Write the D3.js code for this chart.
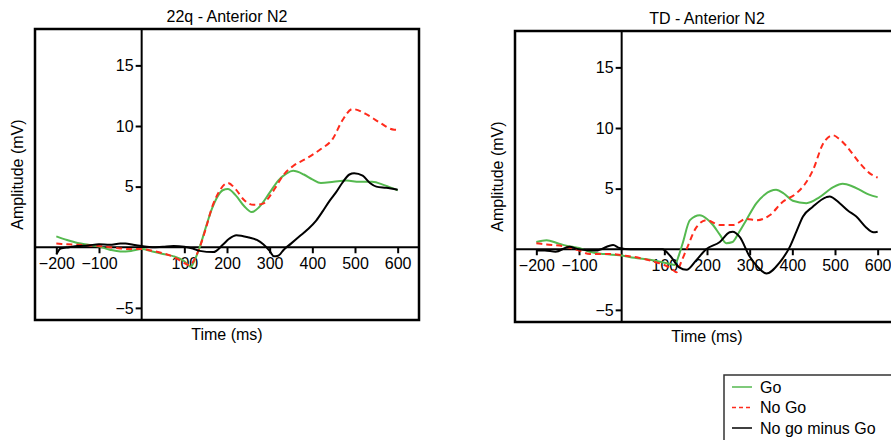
<!DOCTYPE html>
<html>
<head>
<meta charset="utf-8">
<script src="https://cdn.jsdelivr.net/npm/d3@7"></script>
<style>
  body { margin: 0; background: #fff; }
  svg { display: block; font-family: "Liberation Sans", Arial, Helvetica, sans-serif; }
</style>
</head>
<body>
<svg id="chart" width="891" height="440"></svg>
<script>
// data: [time (ms), amplitude (mV)]
const go22q = [[-200,0.9],[-175,0.6],[-150,0.35],[-125,0.2],[-100,0.05],[-75,-0.2],[-50,-0.35],[-25,-0.3],[0,-0.15],[25,-0.35],[50,-0.55],[75,-0.75],[100,-1.15],[115,-1.6],[125,-1.0],[136,0],[150,1.6],[165,3.2],[175,4.0],[190,4.7],[202,4.8],[220,4.3],[240,3.4],[258,2.9],[275,3.3],[300,4.5],[320,5.5],[340,6.1],[355,6.3],[380,6.0],[400,5.6],[420,5.3],[450,5.4],[480,5.5],[510,5.4],[540,5.4],[570,5.1],[600,4.7]];
const nogo22q = [[-200,0.3],[-175,0.25],[-150,0.2],[-125,0.15],[-100,0.1],[-75,0.0],[-50,-0.1],[-25,-0.15],[0,-0.15],[25,-0.3],[50,-0.5],[75,-0.8],[100,-1.3],[112,-1.5],[125,-0.9],[136,0],[150,1.5],[165,3.3],[180,4.5],[202,5.3],[220,4.8],[240,3.9],[262,3.5],[285,3.6],[300,4.2],[315,5.0],[331,5.9],[355,6.7],[385,7.3],[420,8.1],[447,8.9],[471,10.5],[494,11.4],[525,11.0],[557,10.3],[592,9.7],[600,9.7]];
const diff22q = [[-200,-0.6],[-190,-0.1],[-170,0.0],[-150,0.1],[-125,0.15],[-100,0.25],[-75,0.2],[-50,0.3],[-38,0.3],[-20,0.2],[0,0.1],[25,0.0],[50,0.05],[75,0.1],[100,0.05],[120,-0.1],[136,-0.3],[168,-0.4],[190,0.2],[205,0.7],[222,1.0],[252,0.8],[270,0.6],[285,0.25],[300,-0.3],[310,-0.75],[320,-0.7],[333,-0.2],[350,0.3],[370,0.9],[390,1.5],[409,2.2],[425,3.0],[440,3.8],[455,4.5],[470,5.3],[487,6.0],[498,6.1],[518,5.9],[535,5.3],[550,5.0],[573,4.9],[600,4.75]];

const goTD = [[-200,0.6],[-176,0.75],[-150,0.5],[-130,0.3],[-100,0.1],[-75,-0.2],[-40,-0.4],[-5,-0.5],[30,-0.7],[73,-0.9],[112,-1.2],[124,-1.3],[135,-0.4],[143,0.5],[160,2.4],[183,2.8],[200,2.5],[214,2.0],[230,1.2],[245,0.5],[260,0.6],[275,1.4],[292,2.4],[316,3.8],[335,4.5],[362,4.9],[380,4.6],[401,4.0],[433,3.8],[464,4.3],[495,5.1],[518,5.4],[540,5.2],[558,4.9],[580,4.5],[600,4.3]];
const nogoTD = [[-200,0.5],[-176,0.4],[-130,0.2],[-100,-0.1],[-75,-0.4],[-20,-0.4],[0,-0.5],[40,-0.7],[73,-1.0],[100,-1.3],[120,-1.7],[128,-1.9],[140,-1.0],[152,0],[175,1.8],[199,2.4],[230,2.0],[261,2.0],[292,2.5],[316,2.4],[347,2.8],[377,3.9],[409,4.6],[430,5.4],[448,6.5],[472,8.7],[495,9.4],[510,9.1],[527,8.5],[558,7.1],[580,6.3],[600,5.9]];
const diffTD = [[-200,-0.1],[-180,-0.1],[-155,-0.2],[-123,0.2],[-100,0.0],[-60,-0.1],[-20,0.35],[-5,0.1],[20,0.0],[60,0.0],[95,0.0],[115,-0.6],[135,-1.5],[152,-1.7],[175,-0.9],[198,0.0],[230,0.6],[253,1.4],[260,1.45],[277,1.0],[300,-0.6],[320,-1.5],[339,-2.0],[370,-1.1],[394,0.2],[410,1.5],[425,2.7],[448,3.5],[480,4.3],[487,4.35],[511,3.8],[530,3.2],[550,2.7],[573,1.8],[590,1.4],[600,1.45]];

const xTicks = [-200, -100, 100, 200, 300, 400, 500, 600];
const yTicks = [-5, 5, 10, 15];
const legendLabels = ["Go", "No Go", "No go minus Go"];

const seriesStyle = [
  {color: "#55b94f", dash: null},
  {color: "#ff2b1c", dash: "6,4"},
  {color: "#000000", dash: null}
];

const fontSize = "16px";

const svg = d3.select("#chart");
const width = 384, height = 291;

const x = d3.scaleLinear().domain([-250, 650]).range([0, width]);
const y = d3.scaleLinear().domain([-6, 18]).range([height, 0]);

const line = d3.line()
  .x(d => x(d[0]))
  .y(d => y(d[1]))
  .curve(d3.curveMonotoneX);

function drawPanel(left, top, title, series) {
  const g = svg.append("g").attr("transform", "translate(" + left + "," + top + ")");

  g.append("text")
    .attr("x", width / 2).attr("y", -7)
    .attr("text-anchor", "middle")
    .style("font-size", fontSize)
    .text(title);

  // y axis through x = 0
  const yAxis = g.append("g")
    .attr("transform", "translate(" + x(0) + ",0)")
    .call(d3.axisLeft(y).tickValues(yTicks).tickSize(6).tickSizeOuter(0)
      .tickFormat(d => d < 0 ? "\u2212" + Math.abs(d) : d));
  yAxis.select(".domain").remove();

  // x axis through y = 0
  const xAxis = g.append("g")
    .attr("transform", "translate(0," + y(0) + ")")
    .call(d3.axisBottom(x).tickValues(xTicks).tickSize(6).tickSizeOuter(0)
      .tickFormat(d => d < 0 ? "\u2212" + Math.abs(d) : d));
  xAxis.select(".domain").remove();

  [yAxis, xAxis].forEach(a => {
    a.attr("font-size", null).attr("font-family", null);
    a.selectAll("line").attr("stroke", "#000").attr("stroke-width", 2);
    a.selectAll("text").attr("fill", "#000").style("font-size", fontSize);
  });
  xAxis.selectAll("text").attr("dy", "0.8em");
  yAxis.selectAll("text").attr("x", -8);

  g.append("line")
    .attr("x1", 0).attr("x2", width)
    .attr("y1", y(0)).attr("y2", y(0))
    .attr("stroke", "#000").attr("stroke-width", 2);
  g.append("line")
    .attr("x1", x(0)).attr("x2", x(0))
    .attr("y1", 0).attr("y2", height)
    .attr("stroke", "#000").attr("stroke-width", 2);

  series.forEach((s, i) => {
    g.append("path")
      .datum(s)
      .attr("fill", "none")
      .attr("stroke", seriesStyle[i].color)
      .attr("stroke-width", 2)
      .attr("stroke-dasharray", seriesStyle[i].dash)
      .attr("d", line);
  });

  g.append("rect")
    .attr("x", 0).attr("y", 0)
    .attr("width", width).attr("height", height)
    .attr("fill", "none")
    .attr("stroke", "#000").attr("stroke-width", 2.5);

  g.append("text")
    .attr("transform", "translate(-12," + (height / 2) + ") rotate(-90)")
    .attr("text-anchor", "middle")
    .style("font-size", fontSize)
    .text("Amplitude (mV)");

  g.append("text")
    .attr("x", width / 2).attr("y", height + 20)
    .attr("text-anchor", "middle")
    .style("font-size", fontSize)
    .text("Time (ms)");
}

drawPanel(35, 29, "22q - Anterior N2", [go22q, nogo22q, diff22q]);
drawPanel(515, 31, "TD - Anterior N2", [goTD, nogoTD, diffTD]);

// legend
const legend = svg.append("g").attr("transform", "translate(724,375)");
legend.append("rect")
  .attr("x", 0).attr("y", 0).attr("width", 200).attr("height", 80)
  .attr("fill", "#fff").attr("stroke", "#333").attr("stroke-width", 1.5);

legendLabels.forEach((label, i) => {
  const row = legend.append("g").attr("transform", "translate(0," + (12 + i * 20.5) + ")");
  row.append("line")
    .attr("x1", 8).attr("x2", 28)
    .attr("stroke", seriesStyle[i].color)
    .attr("stroke-width", 1.5)
    .attr("stroke-dasharray", seriesStyle[i].dash ? "4,3" : null);
  row.append("text")
    .attr("x", 36).attr("dy", "0.35em")
    .style("font-size", fontSize)
    .text(label);
});
</script>
</body>
</html>
